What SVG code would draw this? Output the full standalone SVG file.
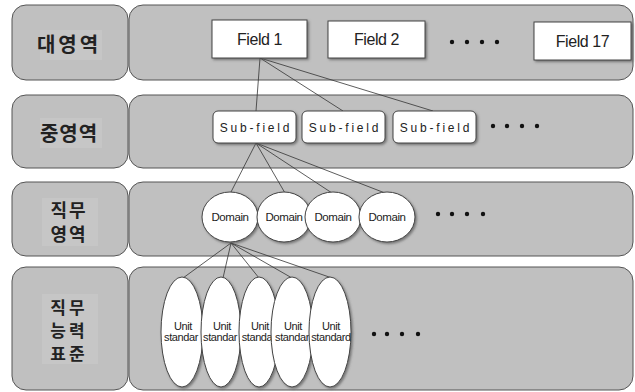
<svg xmlns="http://www.w3.org/2000/svg" width="635" height="392" viewBox="0 0 635 392">
  <defs>
    <filter id="shadow" x="-10%" y="-10%" width="130%" height="130%">
      <feDropShadow dx="1.5" dy="1.5" stdDeviation="0.8" flood-color="#555" flood-opacity="0.7"/>
    </filter>
  </defs>
  <style>
    .panel { fill: #c0c0c0; stroke: #555; stroke-width: 1; }
    .tag { fill: #c6c6c6; }
    .kr { font-family: "Noto Sans CJK KR", sans-serif; font-weight: bold; font-size: 20px; fill: #222; text-anchor: middle; }
    .kr2 { font-family: "Noto Sans CJK KR", sans-serif; font-weight: bold; font-size: 18px; fill: #222; text-anchor: middle; }
    .kr3 { font-family: "Noto Sans CJK KR", sans-serif; font-weight: bold; font-size: 17px; fill: #222; text-anchor: middle; }
    .box { fill: #fff; stroke: #444; stroke-width: 1; filter: url(#shadow); }
    .lbl { font-family: "Liberation Sans", Arial, sans-serif; fill: #222; text-anchor: middle; }
    .field { font-size: 16px; letter-spacing: -0.4px; }
    .sub { font-size: 12px; letter-spacing: 2.8px; }
    .dom { font-size: 11.5px; letter-spacing: -0.4px; }
    .unit { font-size: 11px; letter-spacing: -0.4px; }
    .dot { fill: #111; }
    .link { stroke: #333; stroke-width: 0.8; fill: none; }
  </style>

  <!-- level bands: label column and content area -->
  <g id="band-1">
    <rect class="panel" x="12" y="5" width="116" height="75" rx="14"/>
    <rect class="panel" x="129" y="5" width="504" height="75" rx="14"/>
    <rect class="tag" x="40" y="30" width="62" height="30"/>
    <text class="kr" x="69" y="52" letter-spacing="3">대영역</text>
  </g>
  <g id="band-2">
    <rect class="panel" x="12" y="95" width="116" height="73" rx="14"/>
    <rect class="panel" x="129" y="95" width="504" height="73" rx="14"/>
    <rect class="tag" x="40" y="118" width="62" height="30"/>
    <text class="kr" x="69" y="141" letter-spacing="1">중영역</text>
  </g>
  <g id="band-3">
    <rect class="panel" x="12" y="182" width="116" height="74" rx="14"/>
    <rect class="panel" x="129" y="182" width="504" height="74" rx="14"/>
    <rect class="tag" x="42" y="198" width="56" height="48"/>
    <text class="kr2" x="69" y="217" letter-spacing="2">직무</text>
    <text class="kr2" x="69" y="241" letter-spacing="2">영역</text>
  </g>
  <g id="band-4">
    <rect class="panel" x="12" y="267" width="116" height="123" rx="14"/>
    <rect class="panel" x="129" y="267" width="504" height="123" rx="14"/>
    <rect class="tag" x="42" y="294" width="56" height="70"/>
    <text class="kr3" x="69" y="314" letter-spacing="3">직무</text>
    <text class="kr3" x="69" y="337" letter-spacing="3">능력</text>
    <text class="kr3" x="69" y="360" letter-spacing="3">표준</text>
  </g>

  <!-- connectors -->
  <g id="connectors">
    <line class="link" x1="260" y1="58" x2="256" y2="111"/>
    <line class="link" x1="260" y1="58" x2="343" y2="111"/>
    <line class="link" x1="260" y1="58" x2="433" y2="111"/>
    <line class="link" x1="256" y1="143" x2="231" y2="192"/>
    <line class="link" x1="256" y1="143" x2="285" y2="193"/>
    <line class="link" x1="256" y1="143" x2="332" y2="193"/>
    <line class="link" x1="256" y1="143" x2="385" y2="193"/>
    <line class="link" x1="231" y1="243" x2="183" y2="278"/>
    <line class="link" x1="231" y1="243" x2="223" y2="278"/>
    <line class="link" x1="231" y1="243" x2="259" y2="278"/>
    <line class="link" x1="231" y1="243" x2="292" y2="278"/>
    <line class="link" x1="231" y1="243" x2="332" y2="278"/>
  </g>

  <!-- fields -->
  <g id="field-1">
    <rect class="box" x="212" y="20" width="95" height="38"/>
    <text class="lbl field" x="259.5" y="45">Field 1</text>
  </g>
  <g id="field-2">
    <rect class="box" x="328" y="21" width="97" height="37"/>
    <text class="lbl field" x="376.5" y="45">Field 2</text>
  </g>
  <g id="field-more" class="dot">
    <circle cx="452" cy="42" r="2.2"/>
    <circle cx="467" cy="42" r="2.2"/>
    <circle cx="482" cy="42" r="2.2"/>
    <circle cx="497" cy="42" r="2.2"/>
  </g>
  <g id="field-17">
    <rect class="box" x="534" y="22" width="97" height="38"/>
    <text class="lbl field" x="582.5" y="47">Field 17</text>
  </g>

  <!-- sub-fields -->
  <g id="subfield-1">
    <rect class="box" x="213" y="111" width="83" height="32" rx="5"/>
    <text class="lbl sub" x="256" y="132">Sub-field</text>
  </g>
  <g id="subfield-2">
    <rect class="box" x="302" y="111" width="83" height="32" rx="5"/>
    <text class="lbl sub" x="345" y="132">Sub-field</text>
  </g>
  <g id="subfield-3">
    <rect class="box" x="393" y="111" width="83" height="32" rx="5"/>
    <text class="lbl sub" x="436" y="132">Sub-field</text>
  </g>
  <g id="subfield-more" class="dot">
    <circle cx="493" cy="126" r="2.2"/>
    <circle cx="507" cy="126" r="2.2"/>
    <circle cx="522" cy="126" r="2.2"/>
    <circle cx="537" cy="126" r="2.2"/>
  </g>

  <!-- domains -->
  <g id="domain-1">
    <ellipse class="box" cx="230" cy="217" rx="28" ry="25"/>
    <text class="lbl dom" x="230" y="221">Domain</text>
  </g>
  <g id="domain-2">
    <ellipse class="box" cx="284" cy="217" rx="27" ry="25"/>
    <text class="lbl dom" x="284" y="221">Domain</text>
  </g>
  <g id="domain-3">
    <ellipse class="box" cx="333" cy="217" rx="28" ry="25"/>
    <text class="lbl dom" x="333" y="221">Domain</text>
  </g>
  <g id="domain-4">
    <ellipse class="box" cx="387" cy="217" rx="28" ry="25"/>
    <text class="lbl dom" x="387" y="221">Domain</text>
  </g>
  <g id="domain-more" class="dot">
    <circle cx="438" cy="214" r="2.2"/>
    <circle cx="452" cy="214" r="2.2"/>
    <circle cx="467" cy="214" r="2.2"/>
    <circle cx="483" cy="214" r="2.2"/>
  </g>

  <!-- unit standards -->
  <g id="unit-1">
    <ellipse class="box" cx="182" cy="332" rx="21" ry="55"/>
    <text class="lbl unit" x="183" y="330">Unit</text>
    <text class="lbl unit" x="181" y="341">standar</text>
  </g>
  <g id="unit-2">
    <ellipse class="box" cx="221" cy="332" rx="20" ry="55"/>
    <text class="lbl unit" x="222" y="330">Unit</text>
    <text class="lbl unit" x="220" y="341">standar</text>
  </g>
  <g id="unit-3">
    <ellipse class="box" cx="259" cy="332" rx="20" ry="55"/>
    <text class="lbl unit" x="260" y="330">Unit</text>
    <text class="lbl unit" x="257" y="341">standa</text>
  </g>
  <g id="unit-4">
    <ellipse class="box" cx="292" cy="332" rx="21" ry="55"/>
    <text class="lbl unit" x="293" y="330">Unit</text>
    <text class="lbl unit" x="292" y="341">standar</text>
  </g>
  <g id="unit-5">
    <ellipse class="box" cx="330" cy="332" rx="21" ry="55"/>
    <text class="lbl unit" x="331" y="330">Unit</text>
    <text class="lbl unit" x="331" y="341">standard</text>
  </g>
  <g id="unit-more" class="dot">
    <circle cx="374" cy="334" r="2.2"/>
    <circle cx="387" cy="334" r="2.2"/>
    <circle cx="402" cy="334" r="2.2"/>
    <circle cx="418" cy="334" r="2.2"/>
  </g>
</svg>
